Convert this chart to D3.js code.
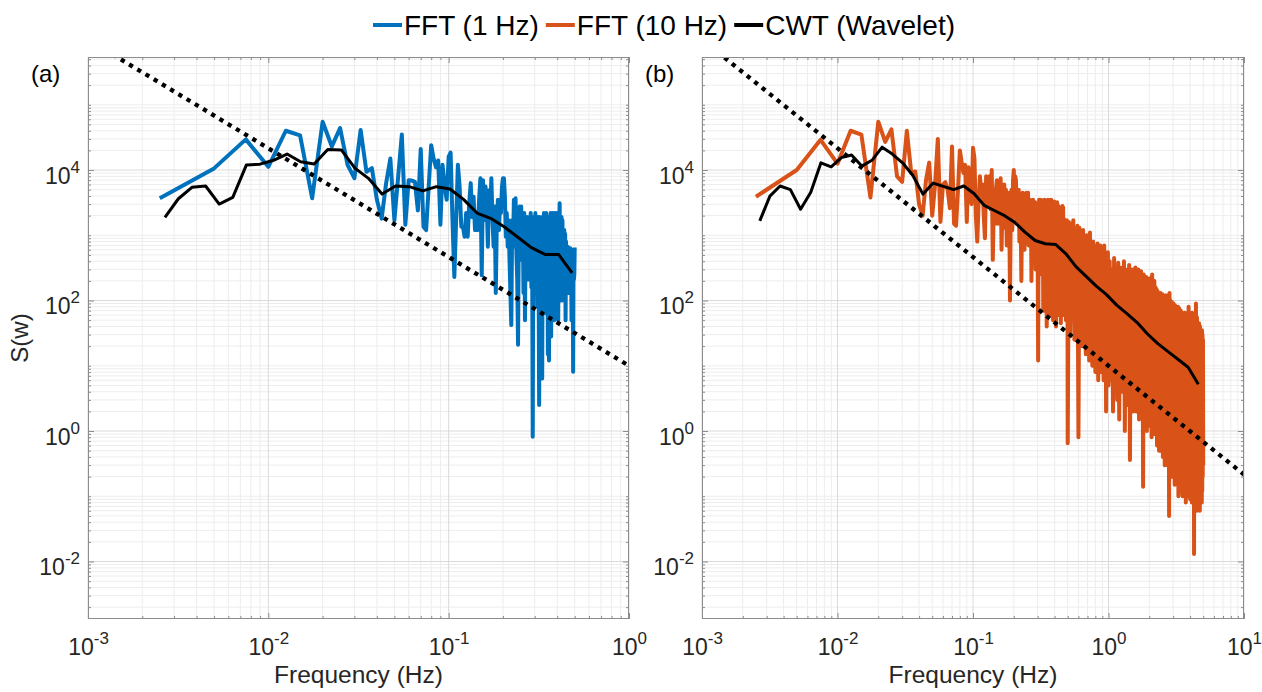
<!DOCTYPE html>
<html>
<head>
<meta charset="utf-8">
<script src="https://cdn.jsdelivr.net/npm/d3@7"></script>
<style>
  body { margin: 0; background: #fff; }
  svg text { font-family: "Liberation Sans", Arial, Helvetica, sans-serif; }
</style>
</head>
<body>
<svg id="chart" width="1262" height="692"></svg>
<script>
// ---------------- DATA ----------------
const binWidth = 0.0025; // Hz, frequency resolution of both FFTs

// FFT of 1 Hz record, bins 1..200 (0.0025 .. 0.5 Hz)
const fft1Hz = [
  3700, 10600, 29500, 11200, 40000, 34000, 3700, 55000, 23000, 44000,
  12000, 7500, 41000, 9400, 10700, 3500, 1800, 6300, 15000, 1700,
  8000, 35000, 1450, 7000, 6900, 6600, 2400, 21000, 1350, 1200,
  5600, 24000, 15000, 11000, 14000, 1450, 12000, 5600, 3500, 16000,
  18500, 1700, 230, 1700, 12000, 5600, 1350, 1350, 950, 2200,
  950, 3100, 6300, 1900, 3900, 1200, 1700, 1200, 3500, 7500,
  245, 7000, 1700, 5600, 3100, 670, 4900, 2400, 7500, 1700,
  670, 2750, 130, 1700, 3500, 1200, 2750, 2200, 5600, 7500,
  7500, 3900, 950, 2200, 670, 1700, 420, 130, 42, 1700,
  670, 3500, 950, 3700, 530, 210, 21, 1700, 2750, 950,
  2750, 420, 1700, 130, 2200, 50, 1700, 420, 1900, 850,
  210, 1700, 670, 2200, 160, 1900, 0.82, 1900, 950, 130,
  2200, 290, 1700, 80, 1900, 670, 2.5, 1900, 530, 1700,
  64, 6.4, 1900, 420, 2200, 160, 1700, 64, 2200, 290,
  1700, 15, 1900, 12, 1900, 420, 2200, 28, 1700, 160,
  2200, 420, 1900, 50, 2200, 290, 1700, 130, 2200, 420,
  1700, 50, 2200, 670, 3100, 100, 1700, 370, 1900, 100,
  1700, 290, 1200, 160, 1200, 530, 1050, 50, 800, 210,
  670, 130, 670, 330, 600, 130, 600, 290, 630, 210,
  560, 50, 530, 210, 600, 8.1, 530, 210, 250, 650
];

// FFT of 10 Hz record, bins 1..200 (0.0025 .. 0.5 Hz)
const fft10HzLow = [
  3900, 10000, 29000, 12500, 40000, 35000, 3800, 55000, 27000, 42000,
  8000, 6600, 40000, 9000, 9500, 3000, 2000, 7000, 13000, 2000,
  6000, 30000, 1600, 6000, 6500, 5000, 2600, 23000, 1500, 1400,
  5000, 20000, 13000, 9000, 12000, 1600, 11000, 5000, 3000, 22000,
  15000, 2000, 800, 3000, 8000, 4500, 6000, 2000, 900, 8000,
  3000, 7000, 8000, 2500, 10000, 420, 3000, 1500, 5000, 7000,
  1500, 5500, 2000, 7500, 600, 3500, 1300, 6000, 2500, 5000,
  700, 3000, 1200, 4500, 100, 2500, 5000, 1200, 7000, 10000,
  3000, 8000, 7000, 1500, 4000, 2000, 5000, 800, 3000, 1500,
  200, 2500, 4500, 1000, 4000, 600, 3500, 2000, 4500, 800,
  3000, 4500, 700, 2500, 3500, 1000, 3000, 200, 2500, 1200,
  3500, 500, 2500, 1600, 3200, 300, 2200, 1000, 3000, 600,
  12, 2000, 3500, 400, 2500, 1200, 3500, 250, 2800, 1000,
  3200, 70, 2500, 600, 3500, 150, 2800, 800, 3000, 40,
  2500, 400, 3500, 100, 2500, 700, 3200, 60, 2200, 300,
  3500, 120, 2500, 600, 3000, 50, 2500, 250, 3300, 100,
  2200, 500, 3000, 40, 2500, 180, 3200, 90, 2200, 400,
  2800, 60, 2000, 200, 2500, 150, 2000, 45, 1800, 300,
  2500, 100, 2800, 150, 2700, 200, 1800, 60, 1700, 300,
  1700, 120, 1700, 50, 1600, 200, 1700, 80, 1600, 0.65
];
// FFT of 10 Hz record, every 4th bin from 204 to 400 (0.51 .. 1.00 Hz)
const fft10HzMid = [
  1600, 30, 1500, 50, 1700, 25, 1200, 60, 1400, 0.8,
  1300, 40, 1000, 20, 1200, 50, 900, 15, 1000, 30,
  800, 12, 1100, 25, 700, 10, 800, 20, 600, 8,
  700, 15, 750, 6, 600, 12, 700, 8, 500, 15,
  600, 6, 700, 10, 500, 2, 500, 8, 550, 5
];
// FFT of 10 Hz record, every 8th bin from 408 to 2000 (1.02 .. 5.00 Hz)
const fft10HzHigh = [
  400, 6, 300, 2, 450, 8, 250, 3, 380, 1.5,
  320, 4, 280, 6, 400, 1, 300, 5, 260, 2.5,
  350, 0.36, 280, 3, 300, 2, 250, 4, 320, 2,
  260, 2.5, 300, 1.5, 220, 3, 280, 2, 230, 0.14,
  250, 1.5, 200, 2.5, 230, 1, 210, 2, 190, 1.2,
  220, 1.5, 180, 0.8, 250, 1.2, 170, 2, 200, 0.9,
  160, 1, 150, 0.6, 140, 1.2, 130, 0.5, 120, 0.8,
  130, 0.5, 110, 0.7, 125, 0.4, 100, 0.6, 115, 0.3,
  100, 0.4, 120, 0.5, 95, 0.3, 110, 0.4, 90, 0.05,
  130, 0.4, 100, 0.3, 85, 0.5, 95, 0.2, 80, 0.35,
  90, 0.3, 80, 0.15, 85, 0.3, 70, 0.2, 75, 0.25,
  70, 0.2, 80, 0.1, 65, 0.3, 75, 0.15, 60, 0.2,
  70, 0.12, 60, 0.2, 65, 0.1, 55, 0.25, 60, 0.15,
  55, 0.1, 65, 0.2, 50, 0.08, 60, 0.15, 55, 0.1,
  60, 0.12, 50, 0.2, 80, 0.1, 55, 0.15, 50, 0.09,
  55, 0.1, 60, 0.15, 50, 0.08, 65, 0.12, 45, 0.1,
  50, 0.08, 55, 0.013, 45, 0.1, 60, 0.07, 50, 0.12,
  90, 0.1, 45, 0.06, 55, 0.12, 40, 0.08, 45, 0.1,
  40, 0.07, 45, 0.1, 35, 0.06, 40, 0.09, 35, 0.08,
  35, 0.1, 30, 0.08, 35, 0.12, 30, 0.2, 25, 0.3
];

// CWT (wavelet) spectra, quarter-octave frequencies
const cwtFreq = [
  0.00267, 0.00317, 0.00377, 0.00449, 0.00534, 0.00635, 0.00755, 0.00898, 0.01068, 0.0127,
  0.0151, 0.01796, 0.02136, 0.0254, 0.0302, 0.0359, 0.0427, 0.0508, 0.0604, 0.0719,
  0.0855, 0.1016, 0.1209, 0.1437, 0.171, 0.203, 0.242, 0.2875, 0.342, 0.4067,
  0.4836, 0.575, 0.684, 0.813, 0.967, 1.150, 1.368, 1.627, 1.934, 2.30,
  2.736, 3.254, 3.869, 4.60
];
const cwt1Hz = [
  1880, 3630, 5430, 5690, 3010, 3820, 11900, 12300, 14100, 17600,
  13400, 12400, 20700, 20300, 10700, 7460, 4290, 5690, 5560, 4790,
  5560, 5130, 3550, 2190, 1820, 1350, 933, 646, 509, 509,
  266
];
const cwt10Hz = [
  1660, 3980, 5690, 5010, 2510, 4570, 12900, 11200, 15500, 17000,
  11500, 14100, 22400, 17600, 12900, 8300, 4270, 6310, 5620, 5010,
  5690, 4370, 2880, 2400, 2000, 1580, 1120, 832, 741, 724,
  525, 331, 234, 166, 123, 85, 63, 46, 31, 22,
  16.6, 12.6, 9.5, 5.2
];

// -5/3 reference slope: S = refCoef * f^refExponent
const refCoef = 10;
const refExponent = -5 / 3;

const seriesNames = ["FFT (1 Hz)", "FFT (10 Hz)", "CWT (Wavelet)"];
const seriesColors = ["#0072BD", "#D95319", "#000000"];
const xTicksA = [1e-3, 1e-2, 1e-1, 1];
const xTicksB = [1e-3, 1e-2, 1e-1, 1, 10];
const yTicks = [1e-2, 1, 1e2, 1e4];
const panelLabels = ["(a)", "(b)"];
const xLabel = "Frequency (Hz)";
const yLabel = "S(w)";

// ---------------- BUILD ----------------
const fft1Pts = fft1Hz.map((v, i) => ({ f: (i + 1) * binWidth, s: v }));
const fft10Pts = []
  .concat(fft10HzLow.map((v, i) => ({ f: (i + 1) * binWidth, s: v })))
  .concat(fft10HzMid.map((v, i) => ({ f: (204 + 4 * i) * binWidth, s: v })))
  .concat(fft10HzHigh.map((v, i) => ({ f: (408 + 8 * i) * binWidth, s: v })));
const cwt1Pts = cwt1Hz.map((v, i) => ({ f: cwtFreq[i], s: v }));
const cwt10Pts = cwt10Hz.map((v, i) => ({ f: cwtFreq[i], s: v }));

const svg = d3.select("#chart");
const plotTop = 57, plotBottom = 619;
const axisColor = "#8c8c8c";
const textColor = "#262626";
const gridMajor = "#dadada";
const gridMinor = "#ededed";

const y = d3.scaleLog().domain([1.315e-3, 5.4e5]).range([plotBottom, plotTop]);

function logGrid(domain) {
  const out = [];
  const e0 = Math.floor(Math.log10(domain[0])), e1 = Math.ceil(Math.log10(domain[1]));
  for (let e = e0; e <= e1; e++) for (let m = 1; m <= 9; m++) {
    const v = m * Math.pow(10, e);
    if (v >= domain[0] * 0.9999 && v <= domain[1] * 1.0001) out.push(v);
  }
  return out;
}
const isTick = (v, ticks) => ticks.some(t => Math.abs(Math.log10(v) - Math.log10(t)) < 1e-6);

const panels = [
  { left: 88, right: 629, xDomain: [1e-3, 1], xTicks: xTicksA, label: panelLabels[0],
    series: [{ pts: fft1Pts, color: seriesColors[0], w: 4 }, { pts: cwt1Pts, color: seriesColors[2], w: 3 }] },
  { left: 702, right: 1244, xDomain: [1e-3, 10], xTicks: xTicksB, label: panelLabels[1],
    series: [{ pts: fft10Pts, color: seriesColors[1], w: 4 }, { pts: cwt10Pts, color: seriesColors[2], w: 3 }] }
];

const defs = svg.append("defs");

function supLabel(sel, v, anchor) {
  const e = Math.round(Math.log10(v));
  const t = sel.append("text")
    .attr("fill", textColor)
    .attr("text-anchor", anchor)
    .style("font-size", "23px");
  t.append("tspan").text("10");
  t.append("tspan").attr("dy", -11).style("font-size", "17px").text(String(e));
  return t;
}

panels.forEach((p, i) => {
  const x = d3.scaleLog().domain(p.xDomain).range([p.left, p.right]);
  const g = svg.append("g");
  const clipId = "clip" + i;
  defs.append("clipPath").attr("id", clipId).append("rect")
    .attr("x", p.left).attr("y", plotTop)
    .attr("width", p.right - p.left).attr("height", plotBottom - plotTop);

  // grid
  const xs = logGrid(p.xDomain);
  const ys = logGrid(y.domain());
  const gx = xs.filter(v => !isTick(v, p.xTicks));
  const gy = ys.filter(v => !isTick(v, yTicks));
  const grid = g.append("g");
  grid.selectAll("line.vminor").data(gx).join("line")
    .attr("x1", d => x(d)).attr("x2", d => x(d)).attr("y1", plotTop).attr("y2", plotBottom)
    .attr("stroke", gridMinor).attr("stroke-width", 1);
  grid.selectAll("line.hminor").data(gy).join("line")
    .attr("y1", d => y(d)).attr("y2", d => y(d)).attr("x1", p.left).attr("x2", p.right)
    .attr("stroke", gridMinor).attr("stroke-width", 1);
  grid.selectAll("line.vmajor").data(p.xTicks).join("line")
    .attr("x1", d => x(d)).attr("x2", d => x(d)).attr("y1", plotTop).attr("y2", plotBottom)
    .attr("stroke", gridMajor).attr("stroke-width", 1);
  grid.selectAll("line.hmajor").data(yTicks).join("line")
    .attr("y1", d => y(d)).attr("y2", d => y(d)).attr("x1", p.left).attr("x2", p.right)
    .attr("stroke", gridMajor).attr("stroke-width", 1);

  // data lines
  const line = d3.line().x(d => x(d.f)).y(d => y(d.s));
  const dataG = g.append("g").attr("clip-path", `url(#${clipId})`);
  p.series.forEach(s => {
    dataG.append("path").attr("d", line(s.pts))
      .attr("fill", "none").attr("stroke", s.color).attr("stroke-width", s.w)
      .attr("stroke-linejoin", "round").attr("stroke-linecap", "butt");
  });
  // reference -5/3 line
  const refPts = p.xDomain.map(f => ({ f: f, s: refCoef * Math.pow(f, refExponent) }));
  dataG.append("path").attr("d", line(refPts))
    .attr("fill", "none").attr("stroke", "#000").attr("stroke-width", 4.3)
    .attr("stroke-dasharray", "4.3,5.3");

  // axes (ticks inward on all sides)
  const minorX = gx, minorY = gy;
  const mk = (axis, tr) => {
    const a = g.append("g").attr("transform", tr).call(axis);
    a.select(".domain").remove();
    a.selectAll("line").attr("stroke", axisColor);
    return a;
  };
  const bx = mk(d3.axisBottom(x).tickValues(p.xTicks).tickSizeInner(-6).tickSizeOuter(0).tickFormat(() => ""), `translate(0,${plotBottom})`);
  mk(d3.axisBottom(x).tickValues(minorX).tickSizeInner(-3).tickSizeOuter(0).tickFormat(() => ""), `translate(0,${plotBottom})`);
  mk(d3.axisTop(x).tickValues(p.xTicks).tickSizeInner(-6).tickSizeOuter(0).tickFormat(() => ""), `translate(0,${plotTop})`);
  mk(d3.axisTop(x).tickValues(minorX).tickSizeInner(-3).tickSizeOuter(0).tickFormat(() => ""), `translate(0,${plotTop})`);
  const ly = mk(d3.axisLeft(y).tickValues(yTicks).tickSizeInner(-6).tickSizeOuter(0).tickFormat(() => ""), `translate(${p.left},0)`);
  mk(d3.axisLeft(y).tickValues(minorY).tickSizeInner(-3).tickSizeOuter(0).tickFormat(() => ""), `translate(${p.left},0)`);
  mk(d3.axisRight(y).tickValues(yTicks).tickSizeInner(-6).tickSizeOuter(0).tickFormat(() => ""), `translate(${p.right},0)`);
  mk(d3.axisRight(y).tickValues(minorY).tickSizeInner(-3).tickSizeOuter(0).tickFormat(() => ""), `translate(${p.right},0)`);
  bx.selectAll("text").remove();
  ly.selectAll("text").remove();

  // box
  g.append("rect").attr("x", p.left + 0.5).attr("y", plotTop + 0.5)
    .attr("width", p.right - p.left - 1).attr("height", plotBottom - plotTop - 1)
    .attr("fill", "none").attr("stroke", axisColor).attr("stroke-width", 1);

  // tick labels
  bx.selectAll(".tick").each(function (d) {
    supLabel(d3.select(this), d, "middle").attr("y", 36).attr("x", 0);
  });
  ly.selectAll(".tick").each(function (d) {
    supLabel(d3.select(this), d, "end").attr("x", -8).attr("y", 13);
  });

  // x label
  g.append("text").attr("x", (p.left + p.right) / 2).attr("y", 683)
    .attr("text-anchor", "middle").attr("fill", textColor)
    .style("font-size", "24.5px").text(xLabel);
  // panel label
  g.append("text").attr("x", p.left - 57).attr("y", 82)
    .attr("fill", "#000").style("font-size", "24px").text(p.label);
});

// y label
svg.append("text").attr("transform", "translate(28,338) rotate(-90)")
  .attr("text-anchor", "middle").attr("fill", textColor)
  .style("font-size", "24px").text(yLabel);

// legend
const leg = svg.append("g");
let lx = 373;
seriesNames.forEach((name, i) => {
  leg.append("line").attr("x1", lx).attr("x2", lx + 29).attr("y1", 25).attr("y2", 25)
    .attr("stroke", seriesColors[i]).attr("stroke-width", 4);
  const t = leg.append("text").attr("x", lx + 31).attr("y", 34.5)
    .attr("fill", "#000").style("font-size", "28px").text(name);
  lx = lx + 31 + t.node().getComputedTextLength() + 7;
});
</script>
</body>
</html>
